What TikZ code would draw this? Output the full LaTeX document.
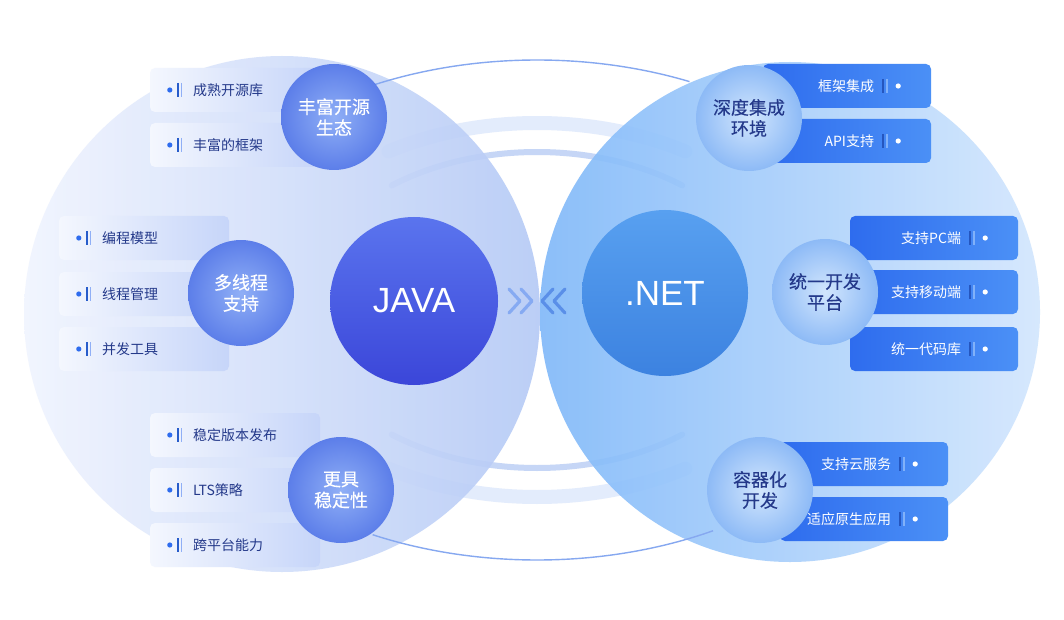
\documentclass[tikz,border=0pt]{standalone}
\usepackage{fontspec}
\setmainfont{Noto Sans CJK SC}
\newfontfamily\latinfont{Liberation Sans}
\newfontfamily\topicfont[FakeBold=0.35]{Noto Sans CJK SC}
\usetikzlibrary{positioning,calc}

\definecolor{haloLa}{HTML}{F0F4FE}
\definecolor{haloLb}{HTML}{B4C9F6}
\definecolor{haloRa}{HTML}{7FB8F9}
\definecolor{haloRb}{HTML}{D2E6FD}
\definecolor{javaTop}{HTML}{5A74EE}
\definecolor{javaBot}{HTML}{3B46D9}
\definecolor{netTop}{HTML}{58A0F0}
\definecolor{netBot}{HTML}{3C82E0}
\definecolor{topLin}{HTML}{90AFF6}
\definecolor{topLout}{HTML}{5C7EE9}
\definecolor{topRin}{HTML}{D2E6FD}
\definecolor{topRout}{HTML}{8DBAF6}
\definecolor{cardLa}{HTML}{F4F7FE}
\definecolor{cardLb}{HTML}{C6D5F9}
\definecolor{cardRa}{HTML}{2E6CEE}
\definecolor{cardRb}{HTML}{4B90F6}
\definecolor{navy}{HTML}{24398A}
\definecolor{ringLine}{HTML}{86A8F0}
\definecolor{bandA}{HTML}{E3ECFC}
\definecolor{bandB}{HTML}{C6D6F6}
\definecolor{chevA}{HTML}{86AAF2}
\definecolor{chevB}{HTML}{5A8FE8}

\begin{document}
\begin{tikzpicture}[x=1pt,y=-1pt,
    every node/.style={inner sep=0pt},
    halo/.style={circle,minimum size=#1,fill opacity=.9},
    core/.style={circle,minimum size=168pt,text=white,
        font=\latinfont\fontsize{35}{40}\selectfont},
    topicL/.style={circle,minimum size=106pt,align=center,text=white,
        shading=radial,inner color=topLin,outer color=topLout,
        font=\topicfont\fontsize{18}{21}\selectfont},
    topicR/.style={circle,minimum size=106pt,align=center,text=navy,
        shading=radial,inner color=topRin,outer color=topRout,
        font=\topicfont\fontsize{18}{21}\selectfont},
    cardL/.style={rounded corners=5pt,minimum width=170pt,minimum height=44pt,
        left color=cardLa,right color=cardLb},
    cardR/.style={rounded corners=5pt,minimum width=168pt,minimum height=44pt,
        left color=cardRa,right color=cardRb},
    txtL/.style={text=navy,font=\fontsize{14}{16}\selectfont},
    txtR/.style={text=white,font=\fontsize{14}{16}\selectfont},
    band/.style={line width=#1,line cap=round},
    ringline/.style={draw=ringLine,line width=1.4pt},
    chev/.style={line width=3.2pt,line cap=round,line join=round},
    lmark/.pic={
        \fill[cardRa] (0,0) circle (2.6);
        \draw[line width=1.6pt,draw=cardRa!85!black] (8,-7) -- (8,7);
        \draw[line width=1.6pt,draw=topLin] (11.5,-7) -- (11.5,7);
    },
    rmark/.pic={
        \fill[white] (0,0) circle (2.6);
        \draw[line width=1.6pt,draw=cardRa!80!black] (-15,-7) -- (-15,7);
        \draw[line width=1.6pt,draw=cardRb!70!white] (-11.5,-7) -- (-11.5,7);
    }
]
\useasboundingbox (0,0) rectangle (1064,620);
\fill[white] (0,0) rectangle (1064,620);

% orbit bands behind the halos
\coordinate (orbit) at (537,310);
\draw[band=14pt,draw=bandA] (orbit) ++(-122:280 and 187)
    arc[start angle=-122,end angle=-58,x radius=280,y radius=187];
\draw[band=14pt,draw=bandA] (orbit) ++(122:280 and 187)
    arc[start angle=122,end angle=58,x radius=280,y radius=187];
\draw[band=6pt,draw=bandB] (orbit) ++(-128:236 and 158)
    arc[start angle=-128,end angle=-52,x radius=236,y radius=158];
\draw[band=6pt,draw=bandB] (orbit) ++(128:236 and 158)
    arc[start angle=128,end angle=52,x radius=236,y radius=158];

% two halos
\node[halo=516pt,left color=haloLa,right color=haloLb] (javahalo) at (282,314) {};
\node[halo=500pt,left color=haloRa,right color=haloRb] (nethalo) at (790,312) {};

% outer orbit line
\draw[ringline] (orbit) ++(-122:375 and 250)
    arc[start angle=-122,end angle=-66,x radius=375,y radius=250];
\draw[ringline] (orbit) ++(116:375 and 250)
    arc[start angle=116,end angle=62,x radius=375,y radius=250];

% java side
\foreach \txt/\yy [count=\i] in {成熟开源库/90,丰富的框架/145} {
    \node[cardL] (eco\i) at (235,\yy) {};
    \node[txtL,right=43pt of eco\i.west] {\txt};
    \pic at ([xshift=20pt]eco\i.west) {lmark};
}
\foreach \txt/\yy [count=\i] in {编程模型/238,线程管理/294,并发工具/349} {
    \node[cardL] (thread\i) at (144,\yy) {};
    \node[txtL,right=43pt of thread\i.west] {\txt};
    \pic at ([xshift=20pt]thread\i.west) {lmark};
}
\foreach \txt/\yy [count=\i] in {稳定版本发布/435,LTS策略/490,跨平台能力/545} {
    \node[cardL] (stable\i) at (235,\yy) {};
    \node[txtL,right=43pt of stable\i.west] {\txt};
    \pic at ([xshift=20pt]stable\i.west) {lmark};
}
\node[topicL] (eco) at (334,117) {丰富开源\\生态};
\node[topicL] (thread) at (241,293) {多线程\\支持};
\node[topicL] (stable) at (341,490) {更具\\稳定性};

% .net side
\foreach \txt/\yy [count=\i] in {框架集成/86,API支持/141} {
    \node[cardR] (ide\i) at (847,\yy) {};
    \node[txtR,left=57pt of ide\i.east] {\txt};
    \pic at ([xshift=-33pt]ide\i.east) {rmark};
}
\foreach \txt/\yy [count=\i] in {支持PC端/238,支持移动端/292,统一代码库/349} {
    \node[cardR] (unify\i) at (934,\yy) {};
    \node[txtR,left=57pt of unify\i.east] {\txt};
    \pic at ([xshift=-33pt]unify\i.east) {rmark};
}
\foreach \txt/\yy [count=\i] in {支持云服务/464,适应原生应用/519} {
    \node[cardR] (cloud\i) at (864,\yy) {};
    \node[txtR,left=57pt of cloud\i.east] {\txt};
    \pic at ([xshift=-33pt]cloud\i.east) {rmark};
}
\node[topicR] (ide) at (749,118) {深度集成\\环境};
\node[topicR] (unify) at (825,292) {统一开发\\平台};
\node[topicR] (cloud) at (760,490) {容器化\\开发};

% core circles
\node[core,top color=javaTop,bottom color=javaBot] (java) at (414,301) {JAVA};
\node[core,top color=netTop,bottom color=netBot,minimum size=166pt] (net) at (665,293) {.NET};

% chevrons
\foreach \dx in {0,12} {
    \draw[chev,draw=chevA] (509+\dx,289) -- (520+\dx,301) -- (509+\dx,313);
    \draw[chev,draw=chevB] (565-\dx,289) -- (554-\dx,301) -- (565-\dx,313);
}
\end{tikzpicture}
\end{document}
